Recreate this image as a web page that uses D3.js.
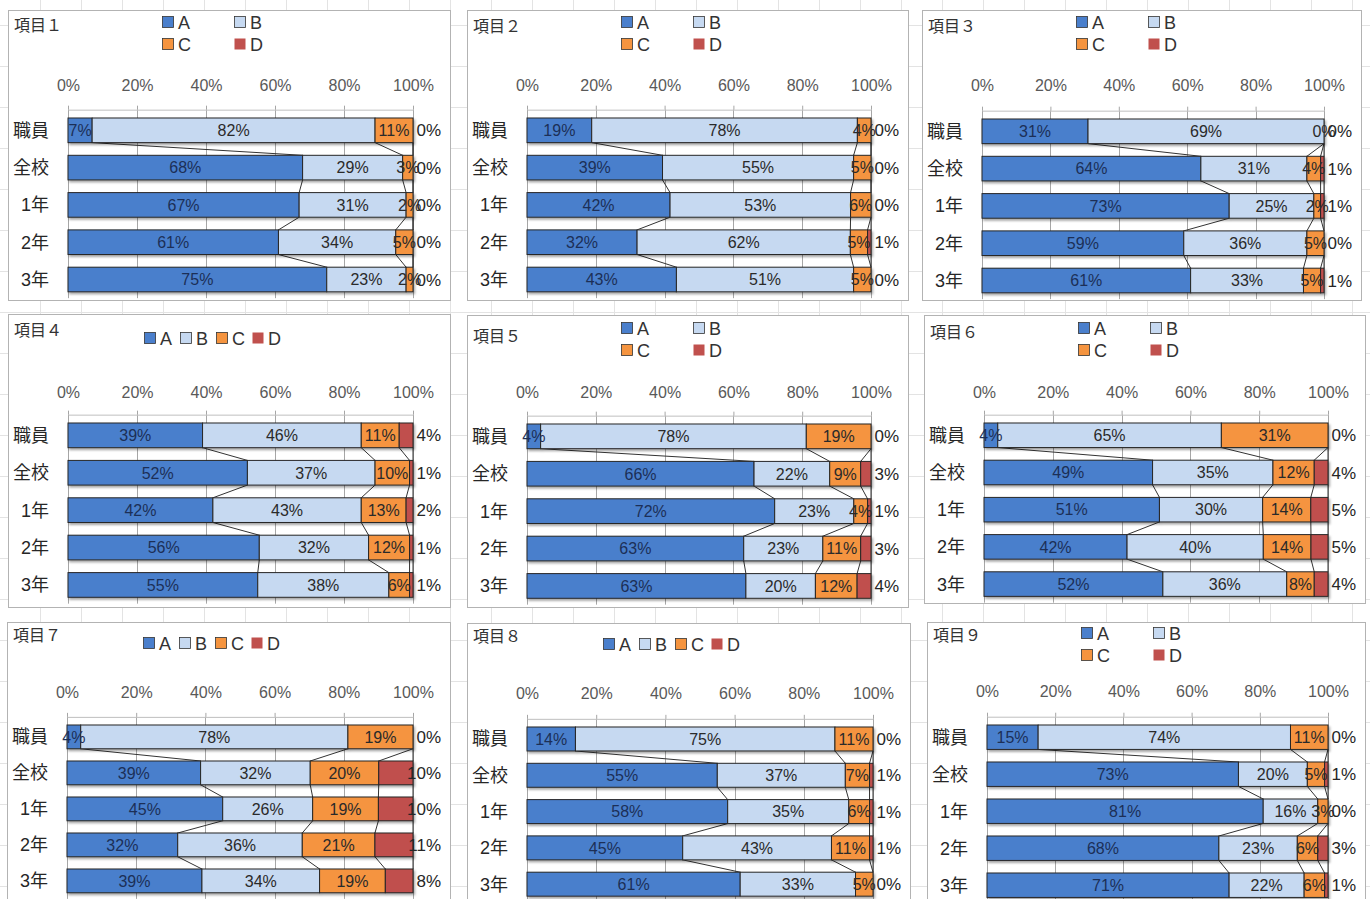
<!DOCTYPE html>
<html>
<head>
<meta charset="utf-8">
<script src="https://cdn.jsdelivr.net/npm/d3@7.9.0/dist/d3.min.js"></script>
<style>
  body { margin: 0; background: #fff; }
  svg { display: block; font-family: "Liberation Sans", "Noto Sans CJK JP", sans-serif; }
</style>
</head>
<body>
<svg id="chart" width="1370" height="899"></svg>
<script>
// data
const categories = ['職員', '全校', '1年', '2年', '3年'];
const seriesNames = ['A', 'B', 'C', 'D'];
const itemTitles = ['項目１', '項目２', '項目３', '項目４', '項目５', '項目６', '項目７', '項目８', '項目９'];
const tickValues = [0, 0.2, 0.4, 0.6, 0.8, 1];

const seriesA = [
  [7, 68, 67, 61, 75],
  [19, 39, 42, 32, 43],
  [31, 64, 73, 59, 61],
  [39, 52, 42, 56, 55],
  [4, 66, 72, 63, 63],
  [4, 49, 51, 42, 52],
  [4, 39, 45, 32, 39],
  [14, 55, 58, 45, 61],
  [15, 73, 81, 68, 71]
];
const seriesB = [
  [82, 29, 31, 34, 23],
  [78, 55, 53, 62, 51],
  [69, 31, 25, 36, 33],
  [46, 37, 43, 32, 38],
  [78, 22, 23, 23, 20],
  [65, 35, 30, 40, 36],
  [78, 32, 26, 36, 34],
  [75, 37, 35, 43, 33],
  [74, 20, 16, 23, 22]
];
const seriesC = [
  [11, 3, 2, 5, 2],
  [4, 5, 6, 5, 5],
  [0, 4, 2, 5, 5],
  [11, 10, 13, 12, 6],
  [19, 9, 4, 11, 12],
  [31, 12, 14, 14, 8],
  [19, 20, 19, 21, 19],
  [11, 7, 6, 11, 5],
  [11, 5, 3, 6, 6]
];
const seriesD = [
  [0, 0, 0, 0, 0],
  [0, 0, 0, 1, 0],
  [0, 1, 1, 0, 1],
  [4, 1, 2, 1, 1],
  [0, 3, 1, 3, 4],
  [0, 4, 5, 5, 4],
  [0, 10, 10, 11, 8],
  [0, 1, 1, 1, 0],
  [0, 1, 0, 3, 1]
];

const colors = ['#4a7fcc', '#c6d9f1', '#f5943f', '#c0504d'];
const labelColors = ['#1c2f57', '#2a2a2a', '#2a2a2a', '#262626'];

// where each chart object sits on the sheet
const panels = [
  { x: 8,   y: 10,  w: 442, h: 290, barTop: 108, step: 37.3, tickY: 81, titleY: 21, legendY: 6 },
  { x: 467, y: 10,  w: 441, h: 290, barTop: 108, step: 37.3, tickY: 81, titleY: 22, legendY: 6 },
  { x: 922, y: 10,  w: 439, h: 290, barTop: 109, step: 37.3, tickY: 81, titleY: 22, legendY: 6 },
  { x: 8,   y: 314, w: 442, h: 293, barTop: 109, step: 37.4, tickY: 84, titleY: 22, legendY: 18, compact: true },
  { x: 467, y: 315, w: 441, h: 292, barTop: 109, step: 37.4, tickY: 83, titleY: 27, legendY: 7 },
  { x: 924, y: 315, w: 441, h: 288, barTop: 108, step: 37.2, tickY: 83, titleY: 23, legendY: 7 },
  { x: 7,   y: 622, w: 443, h: 290, barTop: 103, step: 36.0, tickY: 76, titleY: 19, legendY: 15, compact: true },
  { x: 467, y: 623, w: 443, h: 290, barTop: 104, step: 36.3, tickY: 76, titleY: 19, legendY: 15, compact: true },
  { x: 927, y: 622, w: 438, h: 290, barTop: 103, step: 37.0, tickY: 75, titleY: 19, legendY: 5 }
];

const svg = d3.select('#chart');

// drop shadow like the Excel bars
const defs = svg.append('defs');
defs.append('filter').attr('id', 'shadow')
  .attr('x', '-5%').attr('y', '-20%').attr('width', '115%').attr('height', '160%')
  .append('feDropShadow')
  .attr('dx', 1.5).attr('dy', 2).attr('stdDeviation', 1)
  .attr('flood-color', '#000').attr('flood-opacity', 0.35);

// spreadsheet cell grid behind the charts
const sheet = svg.append('g').attr('stroke', '#e3e3e3').attr('stroke-width', 1);
d3.range(-1, 1370, 41).forEach(x => {
  sheet.append('line').attr('x1', x + 0.5).attr('x2', x + 0.5).attr('y1', 0).attr('y2', 899);
});
d3.range(-16, 899, 41).forEach(y => {
  sheet.append('line').attr('x1', 0).attr('x2', 1370).attr('y1', y + 0.5).attr('y2', y + 0.5);
});

const stack = d3.stack().keys(seriesNames).offset(d3.stackOffsetExpand);

panels.forEach((p, idx) => {
  const rows = categories.map((c, i) => ({
    cat: c, A: seriesA[idx][i], B: seriesB[idx][i], C: seriesC[idx][i], D: seriesD[idx][i]
  }));
  const layers = stack(rows);

  const g = svg.append('g').attr('transform', `translate(${p.x},${p.y})`);

  g.append('rect')
    .attr('x', 0.5).attr('y', 0.5).attr('width', p.w).attr('height', p.h)
    .attr('fill', '#fff').attr('stroke', '#b3b3b3');

  const x = d3.scaleLinear().domain([0, 1]).range([60, p.w - 37]);
  const r0 = p.barTop - 0.17 * p.step;
  const y = d3.scaleBand().domain(categories)
    .range([r0, r0 + 5 * p.step]).paddingInner(0.34).paddingOuter(0.17);
  const axisY = r0 - 2;

  // title
  g.append('text').attr('x', 6).attr('y', p.titleY)
    .attr('font-size', 16).attr('fill', '#333').text(itemTitles[idx]);

  // legend
  const leg = g.append('g').attr('font-size', 18).attr('fill', '#333');
  seriesNames.forEach((s, k) => {
    let lx, ly;
    if (p.compact) { lx = 136 + 36 * k; ly = p.legendY; }
    else { lx = 154 + 72 * (k % 2); ly = p.legendY + 22 * Math.floor(k / 2); }
    leg.append('rect').attr('x', lx + 0.5).attr('y', ly + 0.5).attr('width', 11).attr('height', 11)
      .attr('fill', colors[k]).attr('stroke', k === 3 ? 'none' : '#333').attr('stroke-width', 0.8);
    leg.append('text').attr('x', lx + 16).attr('y', ly + 12.5).text(s);
  });

  // gridlines
  g.append('g').selectAll('line').data(tickValues).join('line')
    .attr('x1', d => Math.round(x(d)) + 0.5).attr('x2', d => Math.round(x(d)) + 0.5)
    .attr('y1', axisY).attr('y2', y.range()[1])
    .attr('stroke', '#a6a6a6').attr('stroke-width', 1);

  // top axis
  const axis = g.append('g').attr('transform', `translate(0,${axisY})`)
    .call(d3.axisTop(x).tickValues(tickValues).tickFormat(d3.format('.0%'))
      .tickSize(4).tickSizeOuter(0).tickPadding(axisY - 4 - p.tickY));
  axis.select('.domain').attr('stroke', '#bfbfbf');
  axis.selectAll('.tick line').attr('stroke', '#a6a6a6');
  axis.selectAll('.tick text').attr('font-size', 16).attr('fill', '#595959')
    .attr('font-family', '"Liberation Sans", sans-serif');

  // category labels
  g.append('g').selectAll('text').data(categories).join('text')
    .attr('x', 41).attr('y', d => y(d) + y.bandwidth() / 2).attr('dy', '0.36em')
    .attr('text-anchor', 'end').attr('font-size', 18).attr('fill', '#262626')
    .text(d => d);

  // series lines between bars
  const sl = g.append('g').attr('stroke', '#333').attr('stroke-width', 1).attr('fill', 'none');
  layers.forEach(layer => {
    for (let i = 0; i < categories.length - 1; i++) {
      sl.append('line')
        .attr('x1', x(layer[i][1])).attr('y1', y(categories[i]) + y.bandwidth())
        .attr('x2', x(layer[i + 1][1])).attr('y2', y(categories[i + 1]));
    }
  });

  // bars
  const bars = g.append('g').attr('filter', 'url(#shadow)');
  layers.forEach((layer, k) => {
    bars.append('g').attr('fill', colors[k]).attr('stroke', '#262626').attr('stroke-width', 1)
      .selectAll('rect').data(layer).join('rect')
      .attr('x', d => x(d[0])).attr('y', d => y(d.data.cat))
      .attr('width', d => Math.max(0, x(d[1]) - x(d[0])))
      .attr('height', y.bandwidth())
      .attr('stroke-opacity', d => d[1] - d[0] > 0 ? 1 : 0);
  });

  // data labels: A-C centred in their segment, D right-aligned past the 100% line
  layers.forEach((layer, k) => {
    g.append('g').attr('fill', labelColors[k])
      .attr('font-size', k < 3 ? 16 : 17)
      .attr('text-anchor', k < 3 ? 'middle' : 'end')
      .selectAll('text').data(layer).join('text')
      .attr('x', d => k < 3 ? (x(d[0]) + x(d[1])) / 2 : x(1) + 28)
      .attr('y', d => y(d.data.cat) + y.bandwidth() / 2)
      .attr('dy', '0.36em')
      .text(d => d.data[seriesNames[k]] + '%');
  });
});
</script>
</body>
</html>
